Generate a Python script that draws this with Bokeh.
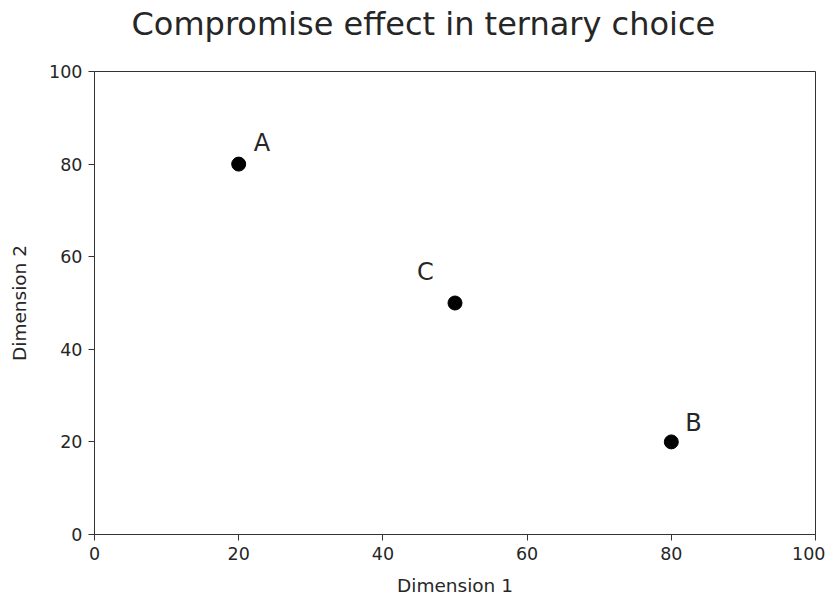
from bokeh.plotting import figure
from bokeh.layouts import column
from bokeh.models import ColumnDataSource, Range1d, FixedTicker
from bokeh.embed import file_html
from bokeh.resources import INLINE
from bokeh.core.properties import value

title_text = "Compromise effect in ternary choice"
names = ["A", "C", "B"]
dim1 = [20, 50, 80]
dim2 = [80, 50, 20]
ticks = [0, 20, 40, 60, 80, 100]

src = ColumnDataSource(dict(x=dim1, y=dim2, name=names,
                            dx=[15, -38, 14], dy=[-21, -31, -19]))

FONT = "DejaVu Sans"
FW = 721
TH = 59

# title strip (its frame is aligned with the main plot frame by the column)
t = figure(output_backend="svg", toolbar_location=None,
           x_range=Range1d(0, FW), y_range=Range1d(0, TH),
           frame_width=FW, frame_height=TH, min_border=0,
           x_axis_location=None, y_axis_location=None)
t.grid.visible = False
t.outline_line_color = None
t.text(x=[37], y=[36], text=[title_text], text_font=value(FONT),
       text_font_size="32px", text_color="#262626",
       text_align="left", text_baseline="alphabetic")

p = figure(output_backend="svg", toolbar_location=None,
           x_range=Range1d(0, 100), y_range=Range1d(0, 100),
           frame_width=FW, frame_height=463,
           min_border_left=94, min_border_right=10, min_border_bottom=60, min_border_top=12)

p.grid.visible = False
p.outline_line_color = "#333333"
p.outline_line_width = 1
for ax in (p.xaxis[0], p.yaxis[0]):
    ax.ticker = FixedTicker(ticks=ticks)
    ax.minor_tick_line_color = None
    ax.major_tick_out = 6
    ax.major_tick_in = 0
    ax.axis_line_color = "#333333"
    ax.major_tick_line_color = "#333333"
    ax.major_label_text_font = FONT
    ax.major_label_text_font_size = "17.5px"
    ax.major_label_text_color = "#262626"
    ax.axis_label_text_font = FONT
    ax.axis_label_text_font_size = "18.5px"
    ax.axis_label_text_font_style = "normal"
    ax.axis_label_text_color = "#262626"
p.xaxis.axis_label = "Dimension 1"
p.yaxis.axis_label = "Dimension 2"
p.xaxis.major_label_standoff = 6
p.yaxis.major_label_standoff = 6
p.xaxis.axis_label_standoff = 12
p.yaxis.axis_label_standoff = 16

p.scatter("x", "y", source=src, size=14, color="black")
p.text("x", "y", text="name", source=src, x_offset="dx", y_offset="dy",
       text_font=value(FONT), text_font_size="24px", text_color="#262626",
       text_baseline="alphabetic", text_align="left")

layout = column(t, p, spacing=0)
open("out.html", "w").write(file_html(layout, INLINE))
